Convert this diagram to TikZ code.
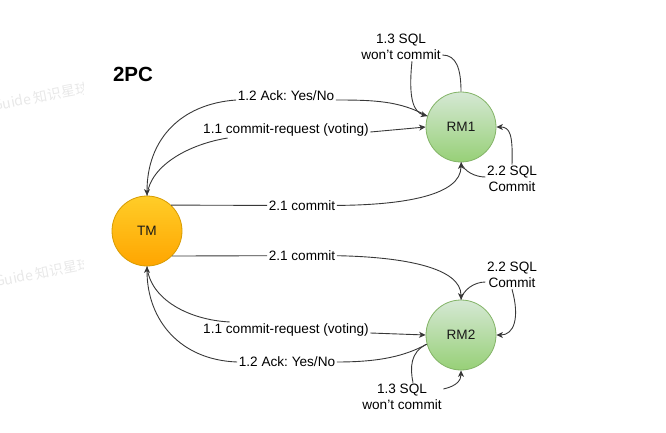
\documentclass[tikz,border=0pt]{standalone}
\usepackage{fontspec}
\setmainfont{Liberation Sans}
\newfontfamily\wmfont{Noto Sans CJK SC}
\usetikzlibrary{arrows.meta}
\frenchspacing

\definecolor{linec}{HTML}{383838}
\definecolor{tmtop}{HTML}{FFCD28}
\definecolor{tmbot}{HTML}{FFA500}
\definecolor{tmline}{HTML}{D79B00}
\definecolor{rmtop}{HTML}{D5E8D4}
\definecolor{rmbot}{HTML}{97D077}
\definecolor{rmline}{HTML}{82B366}
\definecolor{wmgray}{HTML}{E8E8E8}

\begin{document}
\begin{tikzpicture}[x=1pt, y=-1pt,
  conn/.style={draw=linec, line width=0.9pt},
  tip/.style={-{Stealth[length=6.5pt, width=6pt, inset=1.8pt]}},
  lbl/.style={font=\fontsize{13.6}{15.5}\selectfont, inner sep=1.5pt, align=center, text=black},
  roundnode/.style={circle, minimum size=70pt, inner sep=0pt, line width=0.8pt,
    font=\fontsize{13.6}{16}\selectfont, text=black!90},
  tmnode/.style={roundnode, draw=tmline, top color=tmtop, bottom color=tmbot},
  rmnode/.style={roundnode, draw=rmline, top color=rmtop, bottom color=rmbot},
  wmark/.style={font=\wmfont\fontsize{14}{16}\selectfont, text=wmgray, anchor=base west, rotate=11, inner sep=0pt}
]
\useasboundingbox (0,0) rectangle (666,433);

% faint watermark along the left edge
\begin{scope}
  \clip (0,0) rectangle (83,433);
  \node[wmark] (wm1) at (-6,111) {Guide 知识星球};
  \node[wmark] (wm2) at (-4,287) {Guide 知识星球};
\end{scope}

% title
\node[font=\bfseries\fontsize{20.5}{22}\selectfont] (title) at (133,74) {2PC};

% coordinator and resource managers
\node[tmnode] (TM)  at (147,231) {TM};
\node[rmnode] (RM1) at (461,127) {RM1};
\node[rmnode] (RM2) at (461,335) {RM2};

% edge labels
\node[lbl] (l12a) at (286,96)  {1.2 Ack: Yes/No};
\node[lbl] (l11a) at (286,130) {1.1 commit-request (voting)};
\node[lbl] (l21a) at (302,205.4) {2.1 commit};
\node[lbl] (l13a) at (401,47)  {1.3 SQL\\won't commit};
\node[lbl] (l22a) at (512,179) {2.2 SQL\\Commit};

\node[lbl] (l21b) at (302,255.7) {2.1 commit};
\node[lbl] (l11b) at (286,330) {1.1 commit-request (voting)};
\node[lbl] (l12b) at (287,362) {1.2 Ack: Yes/No};
\node[lbl] (l22b) at (512,275) {2.2 SQL\\Commit};
\node[lbl] (l13b) at (402,397) {1.3 SQL\\won't commit};

% phase 1, upper branch
\draw[conn, tip] (RM1.162) .. controls (400,101) and (375,100) .. ([yshift=-4pt]l12a.east)
  ([yshift=-4pt]l12a.west) .. controls (180,104) and (147,140) .. (TM.north);
\draw[conn, tip] (TM.north) .. controls (150,165) and (190,144) .. ([xshift=26pt]l11a.south west)
  ([yshift=-2pt]l11a.east) -- (RM1.west);
\draw[conn, tip] (RM1.north) .. controls (461,68) and (456,55) .. ([yshift=-8pt]l13a.east)
  ([xshift=11pt]l13a.south) .. controls (408,100) and (414,112) .. (RM1.162);

% phase 2, upper branch
\draw[conn, tip] (TM.47) -- (l21a.west) (l21a.east) .. controls (405,205) and (461,195) .. (RM1.south);
\draw[conn, tip] (RM1.south) .. controls (464,172) and (476,177) .. ([yshift=2pt]l22a.west)
  (l22a.north) .. controls (513,135) and (510,127) .. (RM1.east);

% phase 2, lower branch
\draw[conn, tip] (TM.-45) -- (l21b.west) (l21b.east) .. controls (405,257) and (461,268) .. (RM2.north);
\draw[conn, tip] (RM2.north) .. controls (463,290) and (474,282) .. ([yshift=-7pt]l22b.west)
  (l22b.south) .. controls (520,318) and (514,335) .. (RM2.east);

% phase 1, lower branch
\draw[conn, tip] (TM.south) .. controls (150,300) and (190,320) .. ([xshift=28pt]l11b.north west)
  ([yshift=-3pt]l11b.east) -- (RM2.west);
\draw[conn, tip] (RM2.195) .. controls (405,356) and (380,362) .. (l12b.east)
  (l12b.west) .. controls (180,360) and (147,320) .. (TM.south);
\draw[conn, tip] (RM2.195) .. controls (410,352) and (410,368) .. ([xshift=11pt]l13b.north)
  ([yshift=8pt]l13b.east) .. controls (457,386) and (461,380) .. (RM2.south);
\end{tikzpicture}
\end{document}
